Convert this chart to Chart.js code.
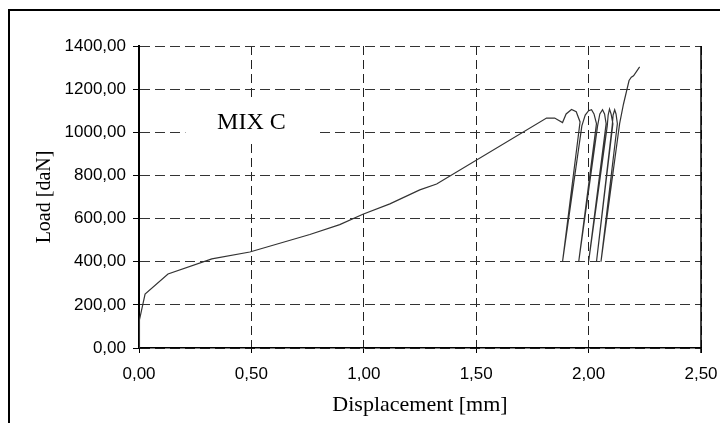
<!DOCTYPE html>
<html>
<head>
<meta charset="utf-8">
<script src="https://cdn.jsdelivr.net/npm/chart.js@4.4.1/dist/chart.umd.min.js"></script>
<style>
  html, body { margin: 0; padding: 0; background: #fff; }
  #wrap { position: relative; width: 720px; height: 423px; overflow: hidden; }
  #frame { position: absolute; left: 8px; top: 9px; width: 800px; height: 500px; border: 2px solid #000; }
  canvas { position: absolute; left: 0; top: 0; }
</style>
</head>
<body>
<div id="wrap">
  <div id="frame"></div>
  <canvas id="chart" width="720" height="423"></canvas>
</div>
<script>
// displacement [mm] / load [daN]
const dispMm = [
  0, 0.002, 0.027, 0.129, 0.324, 0.493, 0.760, 0.893, 0.996, 1.116, 1.249, 1.324,
  1.813, 1.849, 1.884, 1.900, 1.924, 1.945, 1.962,
  1.884, 1.970, 1.985, 2.000, 2.013, 2.024, 2.035,
  1.956, 2.040, 2.050, 2.062, 2.071, 2.078,
  2.000, 2.083, 2.087, 2.093, 2.100, 2.108,
  2.035, 2.105, 2.109, 2.116, 2.122, 2.128,
  2.055, 2.138, 2.155, 2.180, 2.190, 2.200, 2.227
];
const loadDaN = [
  0, 130, 250, 343, 413, 445, 526, 572, 620, 668, 733, 760,
  1066, 1066, 1045, 1085, 1106, 1095, 1048,
  400, 1030, 1080, 1100, 1105, 1085, 1040,
  400, 1030, 1085, 1105, 1085, 1040,
  400, 1030, 1080, 1108, 1085, 1040,
  400, 1030, 1080, 1104, 1085, 1040,
  400, 1040, 1130, 1240, 1255, 1262, 1303
];

const xTicks = [0, 0.5, 1, 1.5, 2, 2.5];
const yTicks = [0, 200, 400, 600, 800, 1000, 1200, 1400];

const label = { text: 'MIX C', x: 0.50, y: 1043 };

function fmt(v) {
  return v.toFixed(2).replace('.', ',');
}

// white box + text in the plot, and the solid right edge
const extras = {
  id: 'extras',
  beforeDatasetsDraw(chart) {
    const c = chart.ctx, xs = chart.scales.x, ys = chart.scales.y;
    const px = xs.getPixelForValue(label.x), py = ys.getPixelForValue(label.y);
    c.save();
    c.fillStyle = '#fff';
    c.fillRect(px - 66, py - 23, 134, 44);
    c.fillStyle = '#000';
    c.font = '24px "Liberation Serif", "Times New Roman", serif';
    c.textAlign = 'center';
    c.textBaseline = 'middle';
    c.fillText(label.text, px, py);
    c.restore();
  },
  afterDraw(chart) {
    const c = chart.ctx, a = chart.chartArea;
    c.save();
    c.strokeStyle = '#000';
    c.lineWidth = 1.5;
    c.beginPath();
    c.moveTo(a.right, a.top);
    c.lineTo(a.right, a.bottom + 5);
    c.stroke();
    c.restore();
  }
};

const tickFont = { family: '"Liberation Sans", Arial, sans-serif', size: 17 };
const serif = '"Liberation Serif", "Times New Roman", serif';

new Chart(document.getElementById('chart').getContext('2d'), {
  type: 'line',
  data: {
    datasets: [{
      data: dispMm.map((d, i) => ({ x: d, y: loadDaN[i] })),
      borderColor: '#333',
      borderWidth: 1.2,
      pointRadius: 0,
      tension: 0,
      fill: false
    }]
  },
  options: {
    responsive: false,
    animation: false,
    layout: { padding: { left: 20, top: 46, right: 19, bottom: 0 } },
    plugins: { legend: { display: false }, tooltip: { enabled: false } },
    scales: {
      x: {
        type: 'linear',
        min: 0, max: 2.5,
        afterBuildTicks: s => { s.ticks = xTicks.map(v => ({ value: v })); },
        afterFit: s => { s.height = 75; s.paddingLeft = 0; s.paddingRight = 0; },
        ticks: { color: '#000', font: tickFont, padding: 11, maxRotation: 0, callback: v => fmt(v) },
        grid: { color: '#222', lineWidth: 1, tickLength: 5, tickColor: '#000', tickBorderDash: [] },
        border: { display: true, color: '#000', width: 1.5, dash: [9, 5] },
        title: { display: true, text: 'Displacement [mm]', color: '#000', font: { family: serif, size: 22 }, padding: { top: 4, bottom: 5 } }
      },
      y: {
        min: 0, max: 1400,
        afterBuildTicks: s => { s.ticks = yTicks.map(v => ({ value: v })); },
        afterFit: s => { s.width = 119; },
        ticks: { color: '#000', font: tickFont, padding: 7, callback: v => fmt(v) },
        grid: { color: '#333', lineWidth: 1, tickLength: 6, tickColor: '#000', tickBorderDash: [] },
        border: { display: true, color: '#000', width: 2, dash: [10, 5] },
        title: { display: true, text: 'Load [daN]', color: '#000', font: { family: serif, size: 20 }, padding: { top: 13, bottom: 0 } }
      }
    }
  },
  plugins: [extras]
});
</script>
</body>
</html>
